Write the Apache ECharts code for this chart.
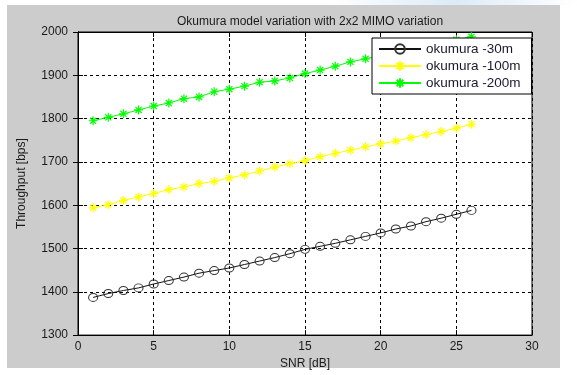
<!DOCTYPE html>
<html>
<head>
<meta charset="utf-8">
<script src="https://cdn.jsdelivr.net/npm/echarts@6/dist/echarts.min.js"></script>
<style>
  html, body { margin: 0; padding: 0; background: #fff; }
  #chart { width: 577px; height: 375px; }
</style>
</head>
<body>
<div id="chart"></div>
<script>
// SNR values (dB)
var snr = [1, 2, 3, 4, 5, 6, 7, 8, 9, 10, 11, 12, 13, 14, 15, 16, 17, 18, 19, 20, 21, 22, 23, 24, 25, 26];
// throughput (bps)
var okumura30 = [1387, 1396, 1403, 1409, 1418, 1426, 1434, 1443, 1449, 1455, 1463, 1471, 1479, 1488, 1498, 1505, 1512, 1520, 1528, 1536, 1545, 1552, 1562, 1570, 1579, 1588];
var okumura100 = [1594, 1601, 1611, 1619, 1627, 1636, 1642, 1650, 1655, 1663, 1670, 1679, 1688, 1696, 1703, 1712, 1720, 1727, 1735, 1742, 1748, 1756, 1763, 1770, 1778, 1787];
var okumura200 = [1795, 1803, 1811, 1820, 1829, 1836, 1846, 1850, 1862, 1868, 1875, 1884, 1887, 1894, 1904, 1912, 1921, 1931, 1938, 1946, 1954, 1961, 1968, 1975, 1982, 1989];
var seriesNames = ["okumura -30m", "okumura -100m", "okumura -200m"];

// matlab-ish markers: '*' and hollow 'o'
var starPath = "path://M5,0 L5,10 M0,5 L10,5 M1.6,1.6 L8.4,8.4 M8.4,1.6 L1.6,8.4";
var ringPath = "path://M10,5 A5,5 0 1,1 0,5 A5,5 0 1,1 10,5 Z";
var font = "Liberation Sans, Arial, sans-serif";

function pairs(ys) {
  return snr.map(function (x, i) { return [x, ys[i]]; });
}

var chart = echarts.init(document.getElementById("chart"));

var xBase = {
  min: 0, max: 30, interval: 5,
  axisLine: { lineStyle: { color: "#000", width: 1 } },
  axisTick: { inside: true, length: 5, lineStyle: { color: "#000" } },
};
var yBase = {
  min: 1300, max: 2000, interval: 100,
  axisLine: { show: true, lineStyle: { color: "#000", width: 1 } },
  axisTick: { show: true, inside: true, length: 5, lineStyle: { color: "#000" } },
};

chart.setOption({
  animation: false,
  backgroundColor: "#fff",
  graphic: [
    {
      type: "rect", z: -10,
      shape: { x: 7, y: 5, width: 553, height: 363 },
      style: { fill: "#cccccc" },
    },
    {
      type: "rect", z: -9,
      shape: { x: 330, y: 0, width: 247, height: 5 },
      style: {
        fill: new echarts.graphic.LinearGradient(0, 0, 1, 0, [
          { offset: 0, color: "#ffffff" },
          { offset: 0.5, color: "#dcebf7" },
          { offset: 1, color: "#ffffff" },
        ]),
      },
    },
  ],
  title: {
    text: "Okumura model variation with 2x2 MIMO variation",
    left: 305, top: 11, textAlign: "center",
    textStyle: { fontFamily: font, fontSize: 12, fontWeight: "normal", color: "#1a1a1a" },
  },
  grid: { left: 78, right: 45, top: 32, bottom: 36, show: true, backgroundColor: "#fff", borderColor: "#000", borderWidth: 1 },
  legend: {
    data: seriesNames,
    orient: "vertical",
    left: 372, top: 38,
    backgroundColor: "#fff",
    borderColor: "#000", borderWidth: 1,
    padding: [4, 11, 4, 6],
    itemGap: 3,
    itemWidth: 42, itemHeight: 12,
    textStyle: { fontFamily: font, fontSize: 13.5, color: "#1a1a2e" },
  },
  xAxis: [
    Object.assign({}, xBase, {
      type: "value",
      name: "SNR [dB]", nameLocation: "middle", nameGap: 20,
      nameTextStyle: { fontFamily: font, fontSize: 12, color: "#1a1a1a" },
      axisLabel: { fontFamily: font, fontSize: 12, color: "#1a1a1a", margin: 6 },
      splitLine: { show: true, lineStyle: { color: "#000", type: [3, 3], width: 1 } },
    }),
    Object.assign({}, xBase, {
      type: "value", position: "top",
      axisLabel: { show: false }, splitLine: { show: false },
    }),
  ],
  yAxis: [
    Object.assign({}, yBase, {
      type: "value",
      name: "Throughput [bps]", nameLocation: "middle", nameGap: 50,
      nameTextStyle: { fontFamily: font, fontSize: 12, color: "#1a1a1a" },
      axisLabel: {
        fontFamily: font, fontSize: 12, color: "#1a1a1a", margin: 10,
        formatter: function (v) { return String(v); },
      },
      splitLine: { show: true, lineStyle: { color: "#000", type: [3, 3], width: 1 } },
    }),
    Object.assign({}, yBase, {
      type: "value", position: "right",
      axisLabel: { show: false }, splitLine: { show: false },
    }),
  ],
  series: [
    {
      name: seriesNames[0], type: "line", data: pairs(okumura30),
      symbol: ringPath, symbolSize: [9, 8],
      lineStyle: { color: "#111", width: 1 },
      itemStyle: { color: "transparent", borderColor: "#333", borderWidth: 1 },
    },
    {
      name: seriesNames[1], type: "line", data: pairs(okumura100),
      symbol: starPath, symbolSize: 9,
      lineStyle: { color: "#ffff00", width: 1 },
      itemStyle: { color: "#ffff00", borderColor: "#ffff00", borderWidth: 1.2 },
    },
    {
      name: seriesNames[2], type: "line", data: pairs(okumura200),
      symbol: starPath, symbolSize: 9,
      lineStyle: { color: "#00ff00", width: 1 },
      itemStyle: { color: "#00ff00", borderColor: "#00ff00", borderWidth: 1.2 },
    },
  ],
});
</script>
</body>
</html>
